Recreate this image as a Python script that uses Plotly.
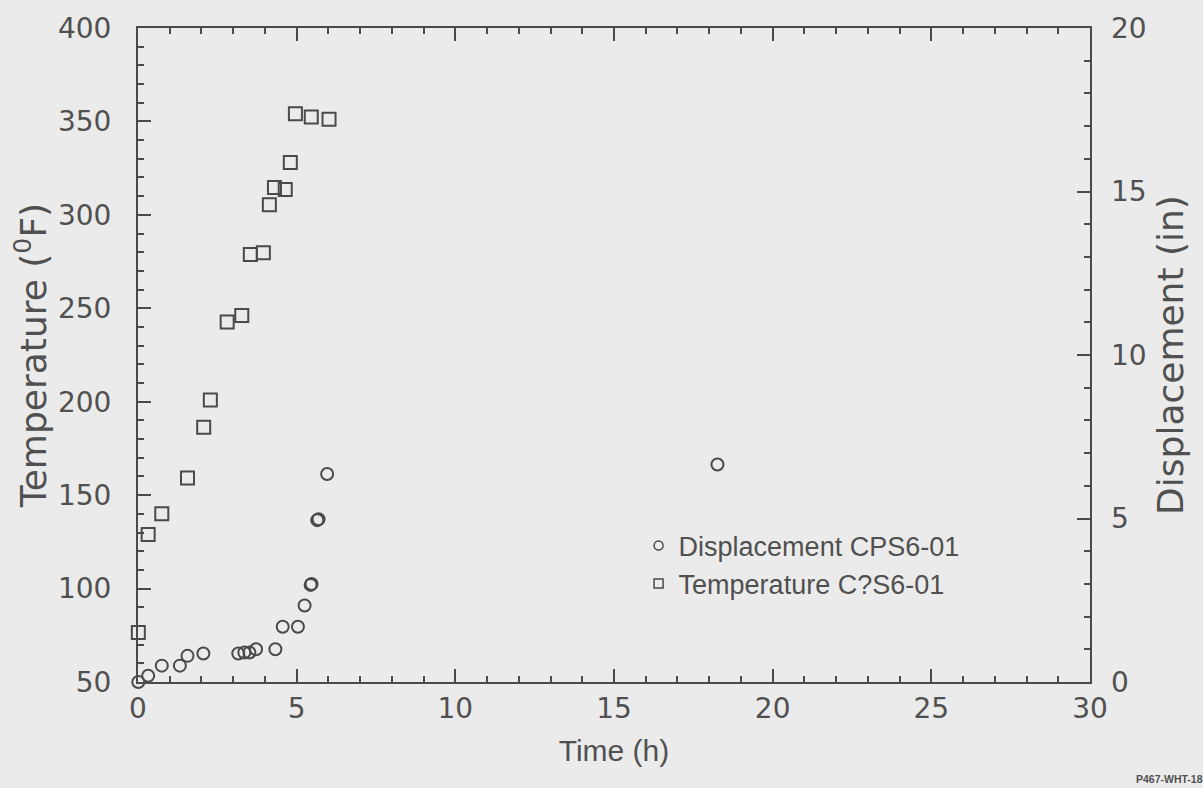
import plotly.graph_objects as go

# Temperature (F) vs time (h)
temp_time = [0.01, 0.32, 0.75, 1.56, 2.07, 2.28, 2.81, 3.27, 3.54, 3.95, 4.14, 4.30, 4.64, 4.80, 4.96, 5.46, 6.02]
temp_vals = [76.5, 128.9, 140.1, 159.2, 186.4, 200.9, 242.7, 246.2, 278.8, 279.7, 305.4, 314.7, 313.6, 328.0, 354.1, 352.4, 351.1]

# Displacement (in) vs time (h)
disp_time = [0.01, 0.32, 0.75, 1.32, 1.56, 2.06, 3.16, 3.35, 3.51, 3.72, 4.33, 4.56, 5.04, 5.25, 5.44, 5.47, 5.65, 5.69, 5.96, 18.26]
disp_vals = [0.0, 0.19, 0.50, 0.50, 0.80, 0.87, 0.87, 0.90, 0.90, 1.00, 1.00, 1.69, 1.69, 2.34, 2.97, 3.00, 4.95, 4.98, 6.36, 6.65]

legend_names = ["Displacement CPS6-01", "Temperature C?S6-01"]

ink = "#4a4a4a"
bg = "#ebebeb"
txt = "#505050"
font_ticks = dict(family="DejaVu Sans", size=28, color=txt)
font_xtitle = dict(family="Liberation Sans", size=30, color=txt)
font_ytitle = dict(family="DejaVu Sans", size=36, color=txt)

fig = go.Figure()

fig.add_trace(go.Scatter(
    x=temp_time, y=temp_vals, mode="markers", showlegend=False,
    marker=dict(symbol="square-open", size=13, color=ink, line=dict(width=2, color=ink)),
    cliponaxis=False, yaxis="y"))

fig.add_trace(go.Scatter(
    x=disp_time, y=disp_vals, mode="markers", showlegend=False,
    marker=dict(symbol="circle-open", size=12, color=ink, line=dict(width=2, color=ink)),
    cliponaxis=False, yaxis="y2"))

# empty trace so the labelled displacement axis is drawn
fig.add_trace(go.Scatter(x=[None], y=[None], mode="markers", showlegend=False,
                         hoverinfo="skip", yaxis="y3"))

# legend-only entries with small symbols
fig.add_trace(go.Scatter(
    x=[None], y=[None], mode="markers", name=legend_names[0],
    marker=dict(symbol="circle-open", size=9, color=ink, line=dict(width=1.5, color=ink)), yaxis="y2"))
fig.add_trace(go.Scatter(
    x=[None], y=[None], mode="markers", name=legend_names[1],
    marker=dict(symbol="square-open", size=9, color=ink, line=dict(width=1.5, color=ink)), yaxis="y"))

tick_common = dict(ticks="inside", ticklen=13, tickwidth=1.5, tickcolor=ink)

fig.update_layout(
    width=1203, height=788,
    margin=dict(l=138, r=93, t=24, b=106),
    paper_bgcolor=bg, plot_bgcolor=bg,
    showlegend=True,
    legend=dict(x=0.515, y=0.179, xanchor="left", yanchor="middle",
                bgcolor="rgba(0,0,0,0)", font=dict(family="Liberation Sans", size=27, color=txt),
                itemwidth=30, tracegroupgap=0),
    xaxis=dict(
        domain=[0, 0.9794],
        range=[0, 30], dtick=5, tick0=0, showgrid=False, zeroline=False,
        showline=True, linecolor=ink, linewidth=2, mirror="ticks",
        minor=dict(dtick=1, ticks="inside", ticklen=6, tickwidth=1.5, tickcolor=ink),
        tickfont=font_ticks,
        title=dict(text="Time (h)", font=font_xtitle, standoff=16),
        **tick_common,
    ),
    yaxis=dict(
        range=[50, 400], dtick=50, tick0=0, showgrid=False, zeroline=False,
        showline=True, linecolor=ink, linewidth=2, mirror=True,
        minor=dict(dtick=10, ticks="inside", ticklen=6, tickwidth=1.5, tickcolor=ink),
        tickfont=font_ticks, ticklabelstandoff=19,
        title=dict(text="Temperature (<sup>0</sup>F)", font=font_ytitle, standoff=0),
        **tick_common,
    ),
    yaxis2=dict(
        range=[0, 20], dtick=5, tick0=0, overlaying="y", side="right", anchor="x",
        showgrid=False, zeroline=False, showline=False, showticklabels=False,
        minor=dict(dtick=1, ticks="inside", ticklen=6, tickwidth=1.5, tickcolor=ink),
        **tick_common,
    ),
    yaxis3=dict(
        range=[0, 20], dtick=5, tick0=0, overlaying="y", side="right",
        anchor="free", position=1.0,
        showgrid=False, zeroline=False, showline=False, ticks="",
        tickfont=font_ticks,
        title=dict(text="Displacement (in)", font=font_ytitle, standoff=12),
    ),
)

fig.add_annotation(
    text="<b>P467-WHT-18</b>", xref="paper", yref="paper",
    x=1.0247, y=-0.16, xanchor="left", yanchor="bottom", showarrow=False,
    font=dict(family="Liberation Sans", size=10.5, color=txt))

fig.write_html("out.html", config={"displayModeBar": False},
               post_script="document.body.style.margin='0';document.body.style.background='#ebebeb';")
